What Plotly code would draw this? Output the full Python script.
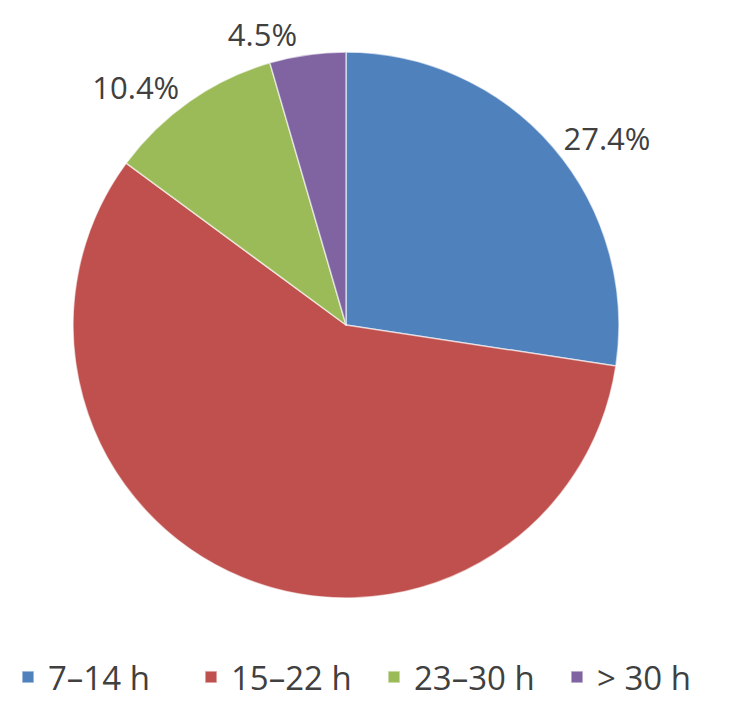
import plotly.graph_objects as go

categories = ["7\u201314 h", "15\u201322 h", "23\u201330 h", "> 30 h"]
values = [27.4, 57.7, 10.4, 4.5]
label_texts = ["27.4%", "", "10.4%", "4.5%"]
colors = ["#4F81BD", "#C0504D", "#9BBB59", "#8064A2"]

fig = go.Figure(go.Pie(
    labels=categories,
    values=values,
    text=label_texts,
    texttemplate="%{text}",
    textposition="outside",
    sort=False,
    direction="clockwise",
    rotation=0,
    marker=dict(colors=colors, line=dict(color="rgba(255,255,255,0.6)", width=1.5)),
    outsidetextfont=dict(size=31, color="#404040", family="Open Sans"),
    domain=dict(x=[0.0892, 0.8381], y=[0.1535, 0.9369]),
    hoverinfo="label+percent",
))

fig.update_layout(
    width=729, height=697,
    margin=dict(l=0, r=0, t=0, b=0, autoexpand=False),
    paper_bgcolor="white",
    plot_bgcolor="white",
    showlegend=True,
    legend=dict(
        orientation="h",
        x=0.0, xanchor="left",
        y=0.0, yanchor="bottom",
        font=dict(size=33, color="#404040", family="Open Sans"),
        entrywidth=138,
        entrywidthmode="pixels",
        traceorder="normal",
    ),
)

fig.write_html("out.html")
